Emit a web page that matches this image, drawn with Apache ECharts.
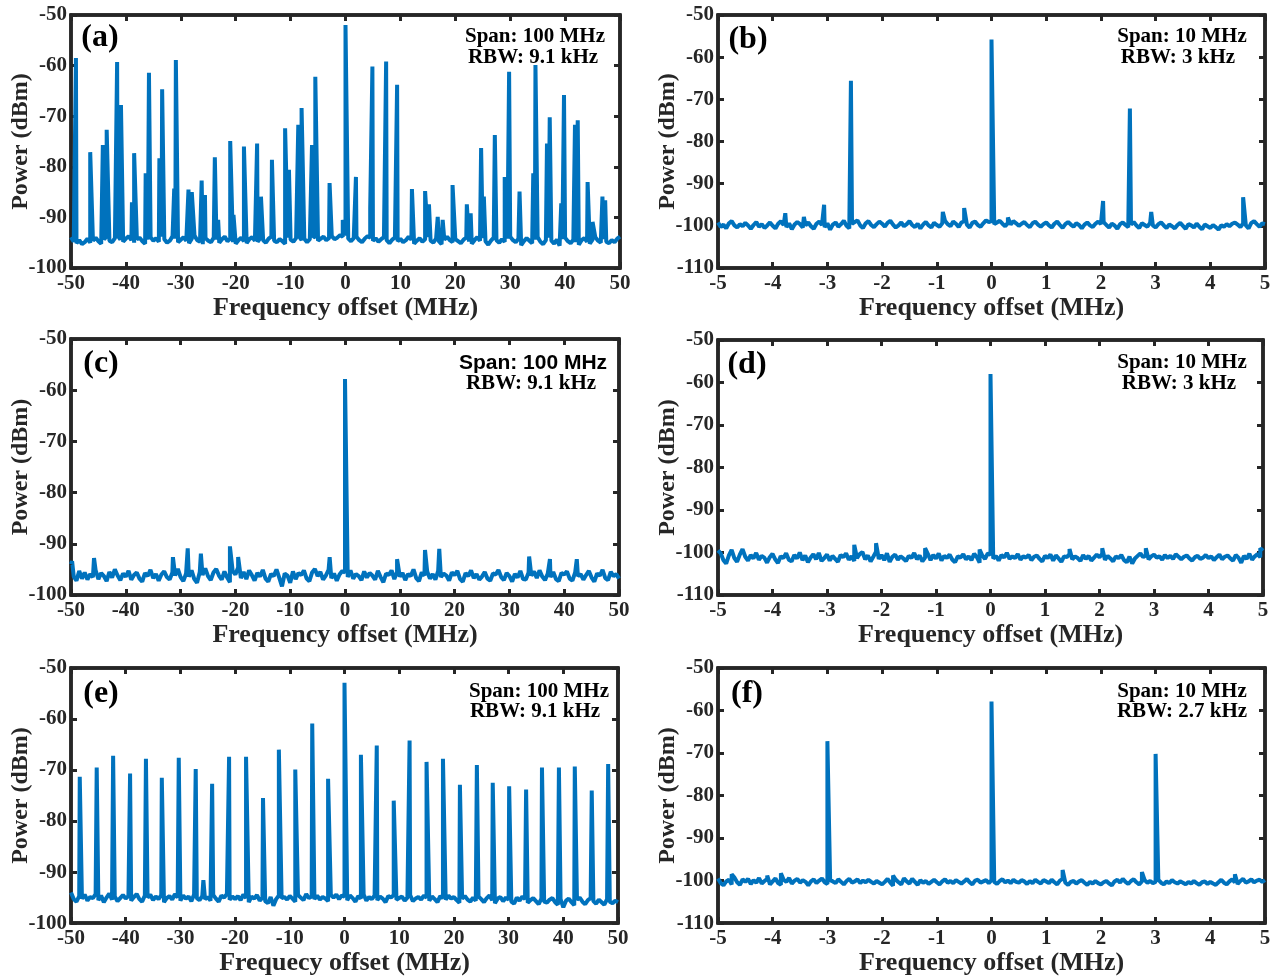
<!DOCTYPE html>
<html>
<head>
<meta charset="utf-8">
<script src="https://cdn.jsdelivr.net/npm/echarts@6/dist/echarts.min.js"></script>
<style>
  html, body { margin: 0; padding: 0; background: #fff; }
  #main { width: 1279px; height: 977px; }
</style>
</head>
<body>
<div id="main"></div>
<script>
// noise floors, sampled every 0.5 MHz (wide spans) or 0.05 MHz (10 MHz spans)
var floorA = [
  -93.9,-94.8,-95.1,-94.5,-95.3,-94.9,-94.2,-95.0,-94.6,-94.0,
  -94.7,-95.2,-94.3,-93.8,-94.6,-94.9,-94.1,-93.6,-94.4,-94.8,
  -94.2,-93.7,-94.5,-95.0,-94.3,-94.0,-94.7,-95.2,-94.4,-93.9,
  -94.6,-94.1,-94.8,-93.8,-94.3,-95.0,-94.6,-93.7,-94.2,-94.9,
  -94.4,-93.9,-94.6,-95.1,-94.2,-93.6,-94.5,-94.8,-95.3,-94.1,
  -94.6,-94.9,-94.0,-94.4,-95.0,-94.3,-93.8,-94.7,-94.2,-94.9,
  -95.2,-94.5,-94.0,-94.7,-95.1,-94.3,-93.9,-94.6,-94.8,-94.1,
  -94.5,-95.0,-94.2,-93.8,-94.6,-94.9,-94.3,-94.7,-95.2,-94.0,
  -94.4,-94.8,-94.1,-93.7,-94.5,-94.2,-94.9,-94.3,-93.6,-94.0,
  -94.6,-94.2,-93.8,-94.5,-94.1,-93.7,-94.3,-94.0,-93.5,-93.8,
  -93.6,-94.2,-94.7,-94.1,-93.8,-94.5,-94.9,-94.2,-93.7,-94.0,
  -94.6,-94.1,-94.8,-94.3,-93.9,-94.5,-95.1,-94.4,-94.0,-94.7,
  -94.2,-94.9,-94.5,-93.8,-94.4,-95.2,-94.6,-94.1,-94.8,-94.3,
  -93.9,-94.6,-95.0,-94.2,-94.7,-95.3,-94.4,-93.8,-94.5,-94.9,
  -94.3,-94.7,-95.1,-94.4,-94.0,-94.8,-95.2,-94.5,-93.9,-94.6,
  -94.1,-94.7,-95.4,-94.6,-94.0,-94.5,-95.0,-94.3,-94.8,-94.2,
  -93.8,-94.5,-94.9,-94.2,-95.5,-94.7,-94.1,-94.6,-95.1,-94.4,
  -93.9,-94.8,-95.3,-94.5,-94.0,-94.6,-95.2,-94.4,-95.6,-94.3,
  -94.0,-94.7,-95.1,-94.4,-94.9,-95.4,-94.5,-94.1,-94.8,-95.2,
  -94.4,-93.9,-94.6,-95.0,-94.3,-94.8,-95.1,-94.5,-94.9,-94.2,
  -93.8
];
var peakFreqA = [-49.1,-46.5,-44.2,-43.5,-41.6,-40.9,-38.9,-38.5,-36.4,-35.8,-33.9,-33.4,-31.2,-30.9,-28.6,-28.0,-26.2,-25.6,-23.8,-23.2,-21.0,-20.4,-18.5,-16.1,-15.4,-13.4,-11.0,-10.3,-8.6,-8.0,-6.1,-5.5,-2.9,-0.5,0,1.9,4.5,4.9,7.4,9.4,12.1,14.5,15.2,16.8,17.7,19.5,22.1,22.8,24.7,25.2,27.2,29.0,29.8,31.7,34.2,34.6,36.7,37.2,39.3,39.8,41.8,42.3,44.1,45.0,46.8,47.3];
var peakLevelA = [-58.5,-77.1,-75.7,-72.7,-59.3,-67.8,-87.0,-77.3,-81.3,-61.4,-78.3,-64.7,-84.3,-58.9,-84.5,-85.0,-82.7,-85.6,-78.1,-90.5,-74.9,-89.5,-76.0,-75.4,-85.9,-78.6,-72.4,-80.6,-71.7,-68.4,-75.7,-62.2,-83.2,-90.5,-52.0,-82.0,-88.2,-60.2,-59.2,-63.8,-84.4,-84.8,-87.4,-89.9,-90.5,-83.6,-87.4,-89.2,-76.3,-85.9,-73.7,-82.0,-61.2,-84.9,-81.3,-59.9,-75.4,-70.2,-87.2,-65.8,-71.7,-70.8,-83.0,-90.9,-85.9,-86.6];

var floorB = [
  -99.2,-100.3,-99.7,-100.6,-99.4,-98.9,-99.9,-100.4,-99.6,-100.1,
  -99.3,-99.9,-100.7,-99.8,-99.1,-100.2,-99.6,-100.5,-99.9,-99.2,
  -100.0,-100.6,-99.5,-98.9,-99.8,-100.3,-99.4,-100.8,-99.7,-99.1,
  -99.6,-100.4,-99.9,-99.2,-100.1,-100.7,-99.5,-99.0,-99.8,-100.3,
  -99.4,-100.9,-99.7,-99.2,-100.2,-99.6,-98.8,-100.0,-100.6,-99.5,
  -99.1,-98.7,-99.9,-100.5,-99.4,-98.9,-99.8,-100.3,-99.6,-99.0,
  -99.5,-100.2,-99.3,-98.8,-99.7,-100.4,-99.9,-99.2,-100.1,-99.6,
  -98.9,-99.8,-100.3,-99.5,-100.6,-99.7,-99.1,-99.9,-100.4,-99.3,
  -99.8,-100.2,-99.4,-98.8,-99.6,-100.1,-99.0,-99.5,-100.3,-99.2,
  -98.9,-99.7,-100.4,-99.3,-99.0,-99.8,-100.2,-99.4,-98.7,-99.1,
  -98.9,-99.6,-99.2,-98.8,-99.5,-100.1,-99.3,-99.7,-98.9,-99.4,
  -100.0,-99.5,-99.1,-99.8,-100.3,-99.4,-99.0,-99.7,-100.2,-99.6,
  -99.2,-99.9,-100.4,-99.5,-99.0,-99.8,-100.5,-99.6,-99.1,-99.7,
  -100.2,-99.4,-99.8,-100.6,-99.7,-99.2,-99.9,-100.3,-99.5,-99.0,
  -99.6,-99.1,-99.8,-100.4,-99.5,-99.9,-100.7,-99.6,-99.2,-99.8,
  -100.3,-99.7,-99.1,-99.9,-100.5,-99.4,-99.8,-100.2,-99.3,-99.9,
  -100.4,-99.6,-99.2,-99.9,-100.5,-99.7,-100.1,-100.6,-99.8,-99.3,
  -100.0,-100.7,-99.6,-99.9,-100.4,-99.5,-100.2,-100.8,-99.7,-100.1,
  -100.5,-99.8,-100.3,-100.9,-99.9,-100.2,-99.6,-100.1,-99.5,-99.2,
  -99.7,-100.3,-99.4,-99.9,-100.6,-99.3,-98.9,-99.6,-100.2,-99.4,
  -99.6
];
var peakFreqB = [-3.77,-3.43,-3.06,-2.57,-0.89,-0.5,0,0.3,2.04,2.53,2.92,4.6];
var peakLevelB = [-97.0,-97.9,-95.0,-65.6,-96.7,-95.8,-55.8,-98.0,-94.1,-72.2,-96.7,-93.2];

var floorC = [
  -94.0,-96.4,-97.2,-95.3,-96.8,-95.6,-97.0,-95.9,-96.5,-95.2,
  -96.9,-95.7,-96.3,-97.3,-95.5,-96.6,-95.0,-96.2,-97.1,-95.8,
  -96.4,-95.3,-97.0,-96.1,-95.6,-96.8,-97.4,-95.7,-96.3,-95.1,
  -96.7,-95.9,-97.2,-96.0,-95.4,-96.5,-97.0,-95.6,-96.2,-94.9,
  -96.5,-97.3,-95.8,-96.4,-95.2,-96.9,-97.6,-95.5,-96.1,-94.8,
  -96.3,-97.1,-95.6,-94.9,-96.2,-97.0,-95.4,-96.6,-97.5,-95.3,
  -96.0,-94.6,-96.7,-95.5,-96.9,-95.2,-96.1,-97.2,-95.7,-96.4,
  -95.1,-96.8,-97.4,-95.9,-96.3,-95.0,-96.6,-98.3,-95.8,-96.2,
  -97.6,-95.4,-96.9,-95.7,-96.1,-95.2,-96.8,-97.3,-95.6,-94.9,
  -96.3,-95.5,-97.0,-96.2,-95.1,-96.7,-95.8,-97.2,-96.0,-95.3,
  -95.6,-96.5,-95.2,-96.8,-95.9,-96.3,-97.1,-95.4,-96.6,-95.7,
  -96.2,-97.0,-95.3,-96.5,-97.5,-95.8,-96.1,-95.2,-96.9,-95.5,
  -96.4,-95.7,-97.1,-95.9,-96.3,-95.0,-96.7,-97.3,-95.6,-96.2,
  -95.4,-96.8,-95.9,-97.0,-95.3,-96.5,-95.8,-96.2,-97.2,-95.6,
  -96.1,-95.3,-96.9,-97.4,-95.7,-96.3,-95.2,-96.7,-95.9,-97.0,
  -96.4,-95.5,-96.8,-97.2,-95.8,-96.0,-95.1,-96.5,-97.1,-95.7,
  -96.3,-97.4,-95.9,-96.6,-95.3,-96.9,-97.0,-95.6,-96.2,-95.4,
  -96.7,-95.2,-96.4,-97.1,-95.8,-96.5,-95.5,-96.9,-97.3,-95.7,
  -96.0,-95.4,-96.8,-97.2,-95.6,-96.3,-95.9,-97.0,-96.1,-95.3,
  -96.6,-97.4,-95.8,-96.2,-95.1,-96.7,-97.1,-95.5,-96.3,-95.9,
  -96.8
];
var peakFreqC = [-49.8,-45.8,-31.4,-28.7,-26.3,-21.0,-19.5,-2.8,0,9.5,14.6,17.2,33.6,37.4,42.3];
var peakLevelC = [-93.4,-92.8,-92.6,-90.9,-91.9,-90.5,-92.6,-92.6,-57.8,-93.0,-91.2,-91.0,-92.5,-93.0,-93.0];

var floorD = [
  -99.5,-100.2,-101.8,-102.6,-100.7,-99.4,-101.3,-102.2,-100.5,-99.2,
  -101.0,-101.9,-100.6,-101.4,-100.1,-101.7,-100.8,-101.2,-102.4,-101.1,
  -100.3,-101.6,-102.5,-100.9,-101.3,-100.2,-101.7,-102.1,-100.6,-101.4,
  -100.0,-101.8,-100.7,-102.3,-101.2,-100.4,-101.6,-100.1,-102.0,-101.3,
  -100.5,-101.9,-100.8,-101.5,-102.2,-100.6,-101.1,-100.2,-101.7,-100.9,
  -102.0,-101.3,-100.4,-99.9,-101.6,-100.7,-102.1,-101.0,-99.8,-101.5,
  -100.6,-101.8,-100.2,-102.2,-101.0,-100.5,-101.7,-100.9,-101.4,-102.0,
  -100.8,-101.3,-100.1,-101.6,-100.7,-102.1,-101.2,-100.3,-101.8,-100.6,
  -101.4,-100.2,-101.9,-100.8,-101.3,-100.5,-101.7,-102.3,-100.9,-101.2,
  -100.4,-101.6,-100.9,-101.8,-100.3,-101.1,-102.4,-100.7,-101.5,-100.2,
  -100.5,-101.4,-100.8,-101.9,-100.6,-101.2,-100.1,-101.5,-100.9,-101.3,
  -100.4,-101.7,-100.9,-101.2,-100.6,-101.8,-101.0,-100.7,-101.5,-102.1,
  -100.8,-101.3,-100.5,-101.9,-100.7,-101.4,-102.2,-100.9,-101.1,-100.4,
  -101.6,-100.9,-101.3,-102.0,-100.6,-101.5,-100.8,-101.9,-101.2,-100.5,
  -101.1,-100.3,-101.7,-100.8,-101.4,-102.1,-100.9,-101.3,-100.6,-101.8,
  -102.3,-101.0,-102.6,-101.4,-100.8,-100.2,-101.1,-100.7,-101.6,-100.9,
  -100.5,-101.2,-100.9,-101.7,-100.6,-101.3,-100.8,-101.5,-100.4,-101.0,
  -101.6,-101.0,-100.7,-101.4,-101.9,-101.1,-100.8,-101.5,-101.2,-100.6,
  -101.3,-100.9,-101.8,-101.1,-100.5,-101.6,-101.0,-100.7,-101.4,-101.9,
  -100.6,-101.2,-102.4,-100.8,-101.5,-100.3,-101.7,-100.9,-100.4,-101.1,
  -99.6
];
var peakFreqD = [-2.5,-2.1,-1.2,-0.2,0,1.45,2.05,2.85,4.95];
var peakLevelD = [-98.2,-97.8,-99.0,-99.3,-58.0,-99.2,-99.0,-99.0,-99.0];

var floorE = [
  -94.0,-95.3,-95.8,-94.7,-95.2,-94.4,-95.6,-94.9,-95.1,-94.3,
  -95.5,-94.6,-95.9,-95.0,-94.2,-95.4,-94.8,-95.7,-95.1,-94.5,
  -95.2,-94.7,-95.6,-94.9,-94.3,-95.3,-95.8,-94.6,-95.0,-94.4,
  -95.5,-94.8,-95.3,-94.5,-95.9,-95.1,-94.7,-95.4,-94.3,-95.0,
  -95.6,-94.6,-95.2,-94.8,-95.7,-94.4,-95.1,-95.5,-94.7,-95.3,
  -94.9,-95.6,-94.5,-95.2,-95.8,-94.6,-95.0,-94.3,-95.4,-94.8,
  -95.3,-94.7,-95.5,-94.4,-95.1,-95.9,-94.8,-95.2,-94.5,-95.6,
  -95.0,-95.7,-96.1,-94.9,-96.6,-95.3,-94.6,-95.1,-94.9,-95.4,
  -94.7,-95.2,-95.8,-94.5,-95.0,-95.5,-94.3,-95.1,-94.8,-95.3,
  -94.6,-95.4,-94.9,-95.2,-95.7,-94.5,-95.0,-94.4,-95.3,-94.6,
  -94.8,-95.5,-94.6,-95.1,-95.8,-94.7,-95.2,-94.4,-95.6,-94.9,
  -95.3,-94.6,-95.5,-94.8,-95.2,-95.9,-94.7,-95.0,-94.5,-95.4,
  -95.1,-94.8,-95.6,-95.0,-94.5,-95.7,-95.2,-94.9,-95.4,-94.6,
  -95.0,-95.6,-94.8,-95.3,-95.9,-94.7,-95.1,-95.4,-94.6,-95.2,
  -94.9,-95.5,-96.0,-95.2,-94.7,-95.4,-95.8,-95.0,-95.6,-94.8,
  -95.3,-95.9,-95.1,-94.6,-95.5,-96.1,-95.2,-94.9,-95.7,-95.0,
  -95.4,-95.8,-96.2,-95.0,-95.6,-94.8,-95.3,-96.0,-95.5,-95.1,
  -95.7,-96.3,-95.2,-95.8,-96.0,-95.4,-95.1,-95.9,-96.4,-95.3,
  -96.9,-95.6,-95.2,-95.9,-96.5,-95.4,-95.0,-95.8,-96.3,-95.5,
  -95.1,-95.7,-96.2,-95.4,-95.9,-96.4,-95.3,-95.8,-96.1,-95.6,
  -95.9
];
var peakFreqE = [-48.4,-45.3,-42.3,-39.2,-36.3,-33.4,-30.3,-27.2,-25.8,-24.2,-21.1,-18.0,-14.9,-12.0,-9.0,-5.9,-3.0,0,3.0,5.9,9.0,11.9,15.0,18.0,21.1,24.2,27.1,30.1,33.2,36.1,39.2,42.1,45.2,48.2];
var peakLevelE = [-71.3,-69.5,-67.2,-70.7,-67.8,-71.5,-67.6,-69.8,-91.6,-72.7,-67.4,-67.4,-75.5,-66.0,-69.9,-60.9,-71.7,-52.9,-67.0,-65.2,-76.0,-64.2,-68.4,-67.8,-72.9,-69.0,-72.5,-73.2,-73.8,-69.5,-69.5,-69.3,-74.0,-68.8];

var floorF = [
  -99.5,-100.6,-101.1,-100.2,-99.8,-100.9,-99.3,-100.4,-101.0,-99.7,
  -100.3,-99.6,-100.8,-99.9,-100.5,-99.4,-100.7,-100.1,-99.6,-100.9,
  -100.2,-99.5,-100.6,-101.0,-99.8,-100.3,-99.4,-100.7,-100.0,-99.6,
  -100.5,-99.9,-100.3,-101.1,-100.2,-99.7,-100.6,-100.0,-99.5,-100.4,
  -100.8,-99.9,-100.2,-100.6,-99.7,-100.3,-100.9,-100.1,-99.6,-100.5,
  -100.2,-99.7,-100.6,-100.0,-100.4,-99.8,-100.3,-100.7,-100.1,-100.5,
  -100.9,-100.3,-99.6,-100.5,-101.2,-99.8,-100.4,-100.9,-99.5,-100.2,
  -100.7,-99.6,-100.3,-101.0,-99.9,-100.5,-100.1,-100.8,-100.3,-99.8,
  -100.4,-100.9,-100.2,-99.7,-100.5,-100.1,-100.6,-99.9,-100.3,-100.7,
  -100.2,-99.6,-100.4,-100.9,-100.0,-99.8,-100.5,-100.2,-99.9,-100.6,
  -99.9,-100.3,-100.8,-100.1,-99.7,-100.4,-100.0,-100.6,-99.8,-100.3,
  -100.5,-99.9,-100.2,-100.8,-100.1,-100.6,-99.8,-100.3,-100.7,-99.9,
  -100.2,-100.6,-99.8,-100.4,-100.9,-100.0,-99.6,-100.5,-101.0,-100.3,
  -100.1,-100.7,-100.2,-99.9,-100.5,-101.0,-100.3,-100.7,-100.1,-100.6,
  -100.9,-100.4,-100.1,-100.7,-101.1,-100.2,-99.8,-100.5,-99.6,-100.3,
  -100.8,-100.1,-99.7,-100.4,-100.9,-100.2,-99.9,-100.5,-100.1,-100.6,
  -100.3,-99.8,-100.5,-100.9,-100.2,-100.6,-99.9,-100.4,-100.7,-100.2,
  -100.5,-100.9,-100.3,-100.7,-100.1,-100.6,-101.0,-100.4,-100.2,-100.8,
  -100.3,-100.7,-101.0,-100.4,-99.8,-100.5,-100.9,-100.2,-99.7,-100.4,
  -100.8,-100.1,-99.6,-100.5,-100.2,-99.7,-100.4,-100.0,-99.8,-100.3,
  -99.9
];
var peakFreqF = [-4.75,-4.1,-3.85,-3.0,-1.8,0,1.3,2.75,3.0,4.45];
var peakLevelF = [-98.5,-98.8,-98.3,-67.2,-98.8,-57.9,-97.5,-98.0,-70.2,-98.5];

var panelTags = ['(a)', '(b)', '(c)', '(d)', '(e)', '(f)'];
var spanTexts = ['Span: 100 MHz', 'Span: 10 MHz', 'Span: 100 MHz', 'Span: 10 MHz', 'Span: 100 MHz', 'Span: 10 MHz'];
var rbwTexts = ['RBW: 9.1 kHz', 'RBW: 3 kHz', 'RBW: 9.1 kHz', 'RBW: 3 kHz', 'RBW: 9.1 kHz', 'RBW: 2.7 kHz'];
var xNames = ['Frequency offset (MHz)', 'Frequency offset (MHz)', 'Frequency offset (MHz)', 'Frequency offset (MHz)', 'Frequecy offset (MHz)', 'Frequency offset (MHz)'];

var SERIF = '"Liberation Serif", "Times New Roman", serif';
var INK = '#262626';
var BLUE = '#0072BD';

var panels = [
    {floor: floorA, start: -50, step: 0.5,  pf: peakFreqA, pl: peakLevelA, xmin: -50, xmax: 50, xint: 10, ymin: -100},
    {floor: floorB, start: -5,  step: 0.05, pf: peakFreqB, pl: peakLevelB, xmin: -5,  xmax: 5,  xint: 1,  ymin: -110},
    {floor: floorC, start: -50, step: 0.5,  pf: peakFreqC, pl: peakLevelC, xmin: -50, xmax: 50, xint: 10, ymin: -100},
    {floor: floorD, start: -5,  step: 0.05, pf: peakFreqD, pl: peakLevelD, xmin: -5,  xmax: 5,  xint: 1,  ymin: -110},
    {floor: floorE, start: -50, step: 0.5,  pf: peakFreqE, pl: peakLevelE, xmin: -50, xmax: 50, xint: 10, ymin: -100},
    {floor: floorF, start: -5,  step: 0.05, pf: peakFreqF, pl: peakLevelF, xmin: -5,  xmax: 5,  xint: 1,  ymin: -110}
];

var gridBox = [
    [71, 15, 549, 253],
    [718, 15, 547, 253],
    [71, 339, 548, 256],
    [718, 340, 545, 255],
    [71, 668, 547, 256],
    [718, 668, 547, 258]
];

// where the text sits on the page (tag, span line, rbw line)
var tagPos  = [[100, 38], [748, 40], [101, 364], [747, 365], [101, 694], [747, 694]];
var spanPos = [[535, 37], [1182, 37], [533, 363], [1182, 363], [539, 692], [1182, 692]];
var rbwPos  = [[533, 58], [1178, 58], [531, 384], [1179, 384], [535, 712], [1182, 712]];

function mergeTrace(p) {
    var pts = p.floor.map(function (v, i) {
        return [Math.round((p.start + i * p.step) * 1000) / 1000, v];
    });
    p.pf.forEach(function (f, k) { pts.push([f, p.pl[k]]); });
    pts.sort(function (a, b) { return a[0] - b[0]; });
    return pts;
}

var grids = [], xAxes = [], yAxes = [], series = [], graphics = [];
panels.forEach(function (p, i) {
    var b = gridBox[i];
    grids.push({
        left: b[0], top: b[1], width: b[2], height: b[3],
        show: true, borderColor: INK, borderWidth: 3.5, backgroundColor: 'transparent'
    });
    var line = {show: true, onZero: false, lineStyle: {color: INK, width: 3.5}};
    var tick = {show: true, inside: true, length: 6, lineStyle: {color: INK, width: 3}};

    xAxes.push({
        type: 'value', gridIndex: i, position: 'bottom',
        min: p.xmin, max: p.xmax, interval: p.xint,
        axisLine: line, axisTick: tick, splitLine: {show: false},
        axisLabel: {color: INK, fontFamily: SERIF, fontWeight: 'bold', fontSize: 21, margin: 5},
        name: xNames[i], nameLocation: 'middle', nameGap: 26,
        nameTextStyle: {color: INK, fontFamily: SERIF, fontWeight: 'bold', fontSize: 26}
    });
    xAxes.push({
        type: 'value', gridIndex: i, position: 'top',
        min: p.xmin, max: p.xmax, interval: p.xint,
        axisLine: line, axisTick: tick, splitLine: {show: false},
        axisLabel: {show: false}
    });
    yAxes.push({
        type: 'value', gridIndex: i, position: 'left',
        min: p.ymin, max: -50, interval: 10,
        axisLine: line, axisTick: tick, splitLine: {show: false},
        axisLabel: {color: INK, fontFamily: SERIF, fontWeight: 'bold', fontSize: 21, margin: 4},
        name: 'Power (dBm)', nameLocation: 'middle', nameGap: 38, nameMoveOverlap: false,
        nameTextStyle: {color: INK, fontFamily: SERIF, fontWeight: 'bold', fontSize: 24}
    });
    yAxes.push({
        type: 'value', gridIndex: i, position: 'right',
        min: p.ymin, max: -50, interval: 10,
        axisLine: line, axisTick: tick, splitLine: {show: false},
        axisLabel: {show: false}
    });
    series.push({
        type: 'line', xAxisIndex: i * 2, yAxisIndex: i * 2,
        data: mergeTrace(p), showSymbol: false,
        lineStyle: {color: BLUE, width: 4}
    });

    graphics.push({
        type: 'text', x: tagPos[i][0], y: tagPos[i][1],
        style: {text: panelTags[i], font: 'bold 32px ' + SERIF, fill: '#000',
                align: 'center', verticalAlign: 'middle'}
    });
    // panel (c) has its Span line set in a sans face in the original
    var spanFont = i === 2 ? 'bold 21px "Liberation Sans", Arial, sans-serif' : 'bold 21px ' + SERIF;
    graphics.push({
        type: 'text', x: spanPos[i][0], y: spanPos[i][1],
        style: {text: spanTexts[i], font: spanFont, fill: '#000',
                align: 'center', verticalAlign: 'middle'}
    });
    graphics.push({
        type: 'text', x: rbwPos[i][0], y: rbwPos[i][1],
        style: {text: rbwTexts[i], font: 'bold 21px ' + SERIF, fill: '#000',
                align: 'center', verticalAlign: 'middle'}
    });
});

var myChart = echarts.init(document.getElementById('main'));
myChart.setOption({
    animation: false,
    backgroundColor: '#fff',
    grid: grids,
    xAxis: xAxes,
    yAxis: yAxes,
    series: series,
    graphic: graphics
});
</script>
</body>
</html>
